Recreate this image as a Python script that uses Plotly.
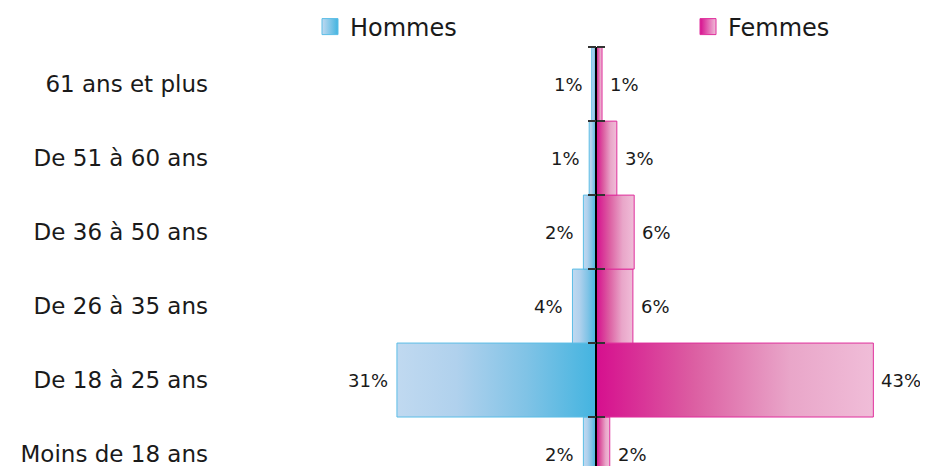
import plotly.graph_objects as go

# Data, bottom to top
categories = ["Moins de 18 ans", "De 18 à 25 ans", "De 26 à 35 ans",
              "De 36 à 50 ans", "De 51 à 60 ans", "61 ans et plus"]
hommes = [2.0, 31.0, 3.7, 2.0, 1.1, 0.7]
femmes = [2.1, 43.1, 5.7, 5.9, 3.2, 0.9]

# Colours
blue_light, blue_dark, blue_edge = "#c0d9f0", "#43b4e0", "#5bbde6"
pink_dark, pink_light, pink_edge = "#d60f8e", "#f0bdd8", "#df2f9c"
blue_scale = [[0, blue_light], [0.3, "#b0d1ed"], [0.65, "#80c3e6"], [1, blue_dark]]
pink_scale = [[0, pink_dark], [0.35, "#dc5ea2"], [0.7, "#e9a6c9"], [1, pink_light]]

font = "DejaVu Sans"
x_min, x_max = -59.3, 51.6
y_range = [-0.162, 5.502]

# the page body has an 8px margin, so the figure is 8px smaller each way
W, H = 920, 458

fig = go.Figure()

# One filled rectangle per bar so that each bar gets its own gradient
for i, (h, f) in enumerate(zip(hommes, femmes)):
    y0, y1 = i - 0.5, i + 0.5
    fig.add_trace(go.Scatter(
        x=[0, -h, -h, 0, 0], y=[y0, y0, y1, y1, y0],
        mode="lines", fill="toself",
        line=dict(color=blue_edge, width=1),
        fillgradient=dict(type="horizontal", colorscale=blue_scale),
        showlegend=False, hoverinfo="skip"))
    fig.add_trace(go.Scatter(
        x=[0, f, f, 0, 0], y=[y0, y0, y1, y1, y0],
        mode="lines", fill="toself",
        line=dict(color=pink_edge, width=1),
        fillgradient=dict(type="horizontal", colorscale=pink_scale),
        showlegend=False, hoverinfo="skip"))

# Legend entries (one legend each, so they can sit far apart)
fig.add_trace(go.Scatter(
    x=[None], y=[None], mode="markers", name="Hommes", legend="legend",
    marker=dict(symbol="square", size=17, color=blue_light,
                gradient=dict(type="horizontal", color=blue_dark),
                line=dict(color=blue_edge, width=1))))
fig.add_trace(go.Scatter(
    x=[None], y=[None], mode="markers", name="Femmes", legend="legend2",
    marker=dict(symbol="square", size=17, color=pink_dark,
                gradient=dict(type="horizontal", color=pink_light),
                line=dict(color=pink_edge, width=1))))

# invisible traces so the centre axes get drawn
for ax in ["y2", "y3"]:
    fig.add_trace(go.Scatter(x=[0], y=[0], yaxis=ax, mode="markers",
                             marker=dict(opacity=0), showlegend=False,
                             hoverinfo="skip"))

# Value labels
for i, (h, f) in enumerate(zip(hommes, femmes)):
    fig.add_annotation(x=-h, y=i, text=f"{h:.0f}%", showarrow=False,
                       xanchor="right", xshift=-7,
                       font=dict(family=font, size=18, color="#1a1a1a"))
    fig.add_annotation(x=f, y=i, text=f"{f:.0f}%", showarrow=False,
                       xanchor="left", xshift=6,
                       font=dict(family=font, size=18, color="#1a1a1a"))

center = -x_min / (x_max - x_min)
boundaries = [i + 0.5 for i in range(-1, len(categories))]

legend_style = dict(orientation="h", xref="container", yref="container",
                    xanchor="left", y=1 - 19 / H, yanchor="middle",
                    font=dict(family=font, size=24, color="#1a1a1a"),
                    bgcolor="rgba(0,0,0,0)")

fig.update_layout(
    width=W, height=H,
    margin=dict(l=207, r=0, t=39, b=0, autoexpand=False),
    plot_bgcolor="white", paper_bgcolor="white",
    showlegend=True,
    legend=dict(x=302 / W, **legend_style),
    legend2=dict(x=680 / W, **legend_style),
    xaxis=dict(range=[x_min, x_max], visible=False, fixedrange=True,
               automargin=False),
    yaxis=dict(range=y_range, tickvals=list(range(len(categories))),
               ticktext=categories, showgrid=False, zeroline=False,
               showline=False, ticks="", ticklabelstandoff=6, automargin=False,
               ticklabeloverflow="allow",
               tickfont=dict(family=font, size=23, color="#1a1a1a")),
    yaxis2=dict(range=y_range, overlaying="y", anchor="free", position=center,
                side="left", showline=True, linecolor="black", linewidth=1.5,
                tickvals=boundaries, ticks="outside", ticklen=8,
                tickcolor="#333333", tickwidth=1.5, showticklabels=False,
                showgrid=False, zeroline=False, automargin=False),
    yaxis3=dict(range=y_range, overlaying="y", anchor="free", position=center,
                side="right", showline=False,
                tickvals=boundaries, ticks="outside", ticklen=8,
                tickcolor="#333333", tickwidth=1.5, showticklabels=False,
                showgrid=False, zeroline=False, automargin=False),
)

fig.write_html("out.html")
